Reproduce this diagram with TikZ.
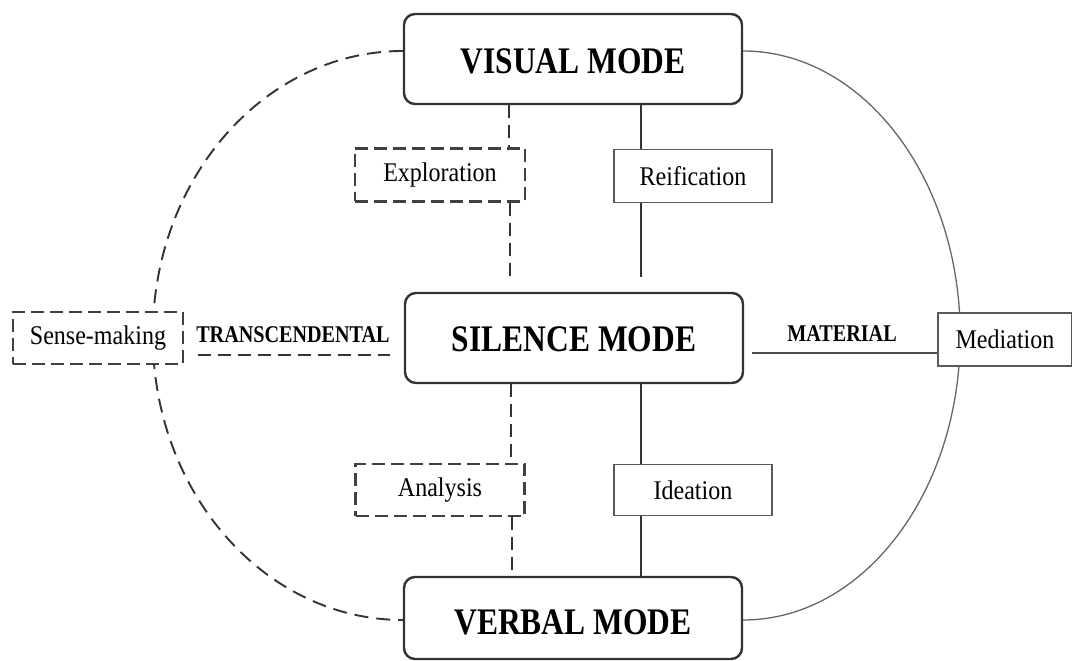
\documentclass[tikz,border=0pt]{standalone}
\usepackage{fontspec}
\setmainfont{Liberation Serif}[FakeStretch=0.89]
\newfontfamily\tfont{Liberation Serif}[FakeStretch=0.84]
\usetikzlibrary{backgrounds}
\begin{document}
\begin{tikzpicture}[x=1pt,y=1pt,
  mode/.style={draw=black!80, line width=2.4pt, rounded corners=11pt, minimum width=338pt,
    minimum height=90pt, inner sep=0pt, fill=white,
    font=\tfont\bfseries\fontsize{37.5}{40}\selectfont},
  lab/.style={minimum height=53pt, inner sep=0pt, fill=white, font=\fontsize{27}{30}\selectfont},
  solidbox/.style={lab, draw=black!65, line width=1.3pt},
  dashbox/.style={lab, draw=black!75, line width=2.1pt, dash pattern=on 13pt off 6pt},
  caplab/.style={inner sep=0pt, font=\tfont\bfseries\fontsize{24}{26}\selectfont},
  solidline/.style={draw=black!80, line width=2pt},
  dashline/.style={draw=black!80, line width=2.1pt, dash pattern=on 13pt off 7pt},
  arcline/.style={draw=black!60, line width=1.3pt}
]
\useasboundingbox (0,0) rectangle (1072,661);

% mode boxes
\node[mode, text height=30pt] (vis) at (573,602) {VISUAL MODE};
\node[mode, text height=27pt] (sil) at (574,323) {SILENCE MODE};
\node[mode, minimum height=82pt, text height=34pt] (verb) at (573,43) {VERBAL MODE};

% small boxes
\node[dashbox, minimum width=170pt] (expl) at (440,486) {Exploration};
\node[solidbox, minimum width=158pt] (reif) at (693,485) {Reification};
\node[dashbox, minimum width=169pt, minimum height=52pt] (anal) at (440,171) {Analysis};
\node[solidbox, minimum width=158pt, minimum height=51pt] (idea) at (693,171) {Ideation};
\node[dashbox, minimum width=170pt, minimum height=52pt] (sense) at (98,323) {Sense-making};
\node[solidbox, minimum width=134pt] (med) at (1005,321.5) {Mediation};

% relation labels
\node[caplab] (trans) at (293,326) {TRANSCENDENTAL};
\node[caplab] (mat) at (842,327) {MATERIAL};

% free ends
\coordinate (eA) at (510,384);
\coordinate (eB) at (641,384);
\coordinate (tA) at (198,306);
\coordinate (tB) at (390,306);
\coordinate (mA) at (752,308);

\begin{scope}[on background layer]
  % outer arcs
  \draw[dashline, line width=1.9pt, dash pattern=on 14pt off 8pt] ([yshift=8pt]vis.west) arc[start angle=90, end angle=270, x radius=250, y radius=284.5];
  \draw[arcline] ([yshift=8pt]vis.east) arc[start angle=90, end angle=-90, x radius=217, y radius=284.5];
  % upper verticals
  \draw[dashline] ([xshift=-64pt]vis.south) -- ([xshift=-64pt]vis.south |- expl.north);
  \draw[dashline] (expl.south -| eA) -- (eA);
  \draw[solidline] ([xshift=68pt]vis.south) -- ([xshift=68pt]vis.south |- reif.north);
  \draw[solidline] (reif.south -| eB) -- (eB);
  % lower verticals
  \draw[dashline] ([xshift=-63pt]sil.south) -- ([xshift=-63pt]sil.south |- anal.north);
  \draw[dashline] ([xshift=72pt]anal.south) -- ([xshift=72pt]anal.south |- verb.north);
  \draw[solidline] ([xshift=67pt]sil.south) -- ([xshift=67pt]sil.south |- idea.north);
  \draw[solidline] ([xshift=-52pt]idea.south) -- ([xshift=-52pt]idea.south |- verb.north);
  % horizontals
  \draw[dashline] (tA) -- (tB);
  \draw[solidline, line width=1.4pt, draw=black!70] (mA) -- (med.west |- mA);
\end{scope}
\end{tikzpicture}
\end{document}
